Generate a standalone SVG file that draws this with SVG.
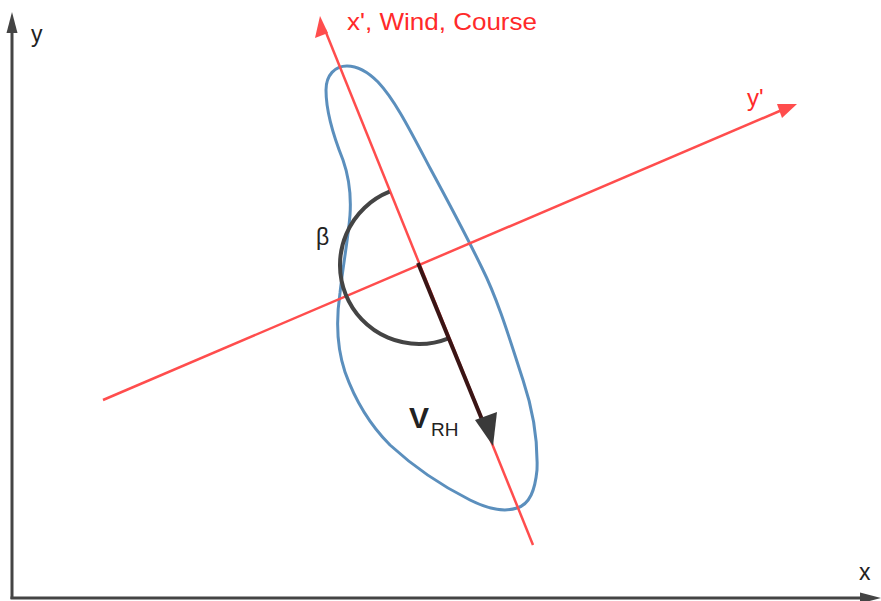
<svg xmlns="http://www.w3.org/2000/svg" width="881" height="601" viewBox="0 0 881 601">
<style>
.axis{stroke:#444;stroke-width:3;fill:none}
.red{stroke:#ff4d4d;stroke-width:2.5;fill:none}
.lbl{font-family:"Liberation Sans",Arial,sans-serif;fill:#222}
.rlbl{font-family:"Liberation Sans",Arial,sans-serif;fill:#ff2a2a}
</style>
<rect width="881" height="601" fill="#fff"/>
<g id="axes">
<line class="axis" x1="12" y1="599" x2="12" y2="30"/>
<polygon points="12,12 6.5,33 17.5,33" fill="#444"/>
<line class="axis" x1="10.5" y1="598" x2="862" y2="598"/>
<polygon points="881,598 860,592.5 860,603.5" fill="#444"/>
<text class="lbl" x="31" y="42" font-size="23">y</text>
<text class="lbl" x="859" y="580" font-size="23">x</text>
</g>
<g id="blade">
<path d="M347,66 C335,66 326,75 326,90 C326,110 333,135 343,160 C350,180 351,200 350,215 C348,240 343,265 340,293 C336,320 336,345 345,372 C355,400 370,425 390,445 C415,468 440,485 470,500 C490,510 505,512 517,508 C530,504 535,490 537,470 C538,440 533,410 523,380 C510,340 498,300 482,268 C466,235 450,205 430,168 C410,130 395,100 378,82 C367,71 357,66 347,66 Z" fill="none" stroke="#5b8fbd" stroke-width="3"/>
</g>
<g id="connectors">
<line class="red" x1="533" y1="545" x2="325" y2="30"/>
<polygon points="320,16 315,38 328,33" fill="#ff4d4d"/>
<line class="red" x1="103" y1="400" x2="782" y2="110"/>
<polygon points="797,104 777,104 782,118" fill="#ff4d4d"/>
<path d="M389.5,191.7 A79,79 0 0 0 448.5,338.3" fill="none" stroke="#444" stroke-width="4"/>
<line x1="418" y1="263" x2="483" y2="422" stroke="#3a1515" stroke-width="4"/>
<polygon points="493,446 475,420 497,412" fill="#3a3a3a"/>
</g>
<g id="labels">
<text class="rlbl" x="347" y="30" font-size="24" textLength="190" lengthAdjust="spacingAndGlyphs">x', Wind, Course</text>
<text class="rlbl" x="747" y="106" font-size="24">y'</text>
<text class="lbl" x="316" y="245" font-size="23">β</text>
<text class="lbl" x="409" y="428" font-size="30" font-weight="bold">V</text>
<text class="lbl" x="431" y="436" font-size="19" fill="#444">RH</text>
</g>
</svg>
